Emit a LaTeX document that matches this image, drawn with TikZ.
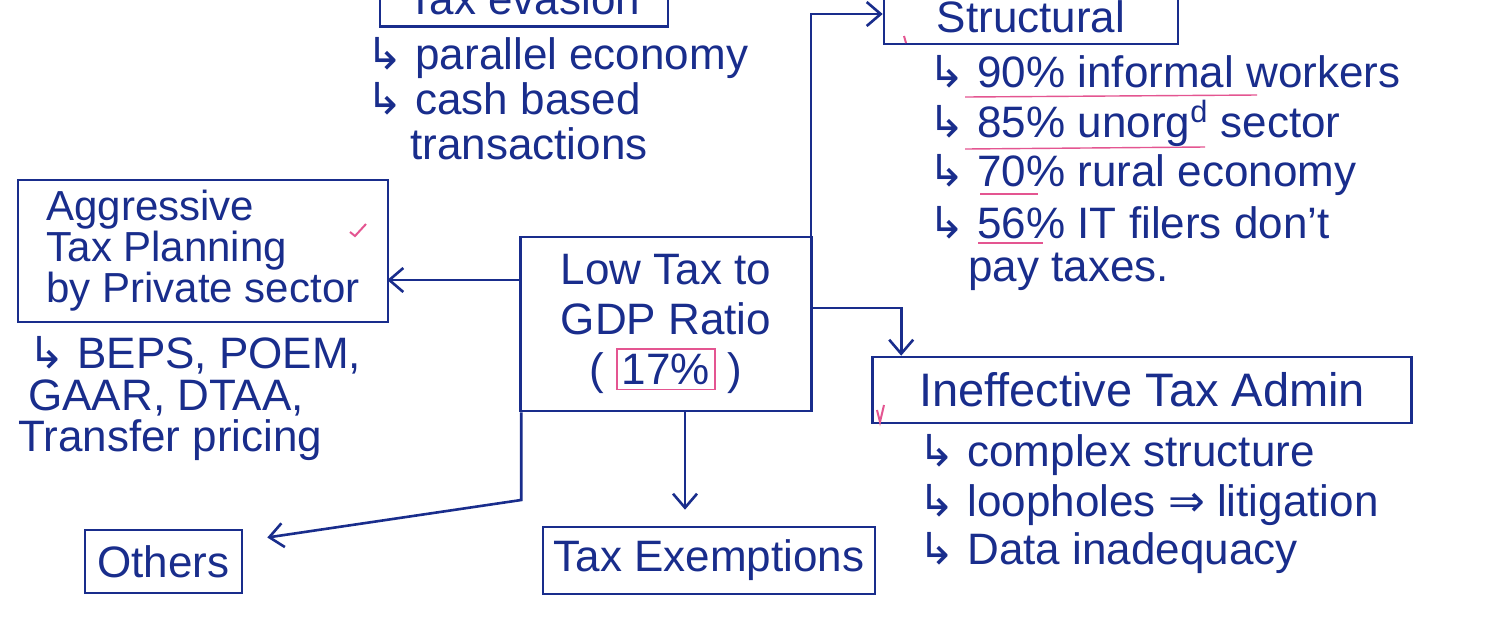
\documentclass[tikz,border=0pt]{standalone}
\usepackage{fontspec}
\setmainfont{Liberation Sans}
\newfontfamily\symf{DejaVu Sans}
\usetikzlibrary{arrows.meta}
\definecolor{ink}{RGB}{25,45,140}
\definecolor{pinkink}{RGB}{228,85,145}
\newcommand\harr{{\symf ↳}\ }
\newcommand\pinkbx[1]{{\setlength{\fboxsep}{2pt}\setlength{\fboxrule}{0.8pt}\fcolorbox{pinkink}{white}{#1}}}
\tikzset{
  box/.style={draw=ink, line width=1.3pt, inner sep=0pt, align=center, text=ink},
  arr/.style={draw=ink, line width=1.3pt, -{Straight Barb[length=7pt,width=12pt,line width=1.3pt]}},
  txt/.style={anchor=west, text=ink, inner sep=0pt},
  pinkline/.style={draw=pinkink, line width=0.7pt},
}
\begin{document}
\begin{tikzpicture}[x=0.5pt,y=-0.5pt,font=\fontsize{22}{25}\selectfont]
\useasboundingbox (0,0) rectangle (1500,618);
\clip (0,0) rectangle (1500,618);
\fill[white] (0,0) rectangle (1500,618);

% boxes
\node[box, minimum width=145.5pt, minimum height=87pt] (central) at (666,324)
  {Low Tax to\\GDP Ratio\\( \pinkbx{17\%} )};
\node[box, minimum width=144pt, minimum height=33.5pt, text depth=0pt] (evasion) at (524,-7) {\raisebox{-6pt}{Tax evasion}};
\node[box, minimum width=147pt, minimum height=30pt, text depth=0pt] (structural) at (1031,14) {\raisebox{-3pt}{Structural}};
\node[box, minimum width=185pt, minimum height=71pt, align=left, font=\fontsize{21}{20.5}\selectfont] (aggressive) at (203,251)
  {Aggressive\\Tax Planning\\by Private sector};
\node[box, minimum width=269.5pt, minimum height=33pt, font=\fontsize{23.5}{25}\selectfont] (ineffective) at (1142,390) {Ineffective Tax Admin};
\node[box, minimum width=78.5pt, minimum height=31.5pt] (others) at (163.5,561.5) {Others};
\node[box, minimum width=166pt, minimum height=33.5pt] (taxex) at (709,560.5) {Tax Exemptions};

% connectors
\draw[arr] ([xshift=-1pt]central.north east) |- (structural.west);
\draw[arr] ([yshift=22pt]central.west) -- ([yshift=22pt]central.west -| aggressive.east) -- ++(-2,0);
\coordinate (bend) at ([xshift=1pt]central.south west |- 0,500);
\coordinate (othtip) at ([xshift=12pt,yshift=12pt]others.east);
\draw[arr] ([xshift=1pt]central.south west) -- (bend) -- (othtip);
\draw[arr, shorten >=8pt] ([xshift=9.5pt]central.south) -- ([xshift=9.5pt]central.south |- taxex.north);
\draw[arr] ([yshift=8pt]central.east) -| ([xshift=15pt]ineffective.north west);

% tax evasion list
\node[txt] (ev1) at (366,58) {\harr parallel economy};
\node[txt] (ev2) at (366,99) {\harr cash based};
\node[txt] (ev3) at (410,144) {transactions};

% structural list
\node[txt] (st1) at (928,72) {\harr 90\% informal workers};
\node[txt] (st2) at (928,123) {\harr 85\% unorg\textsuperscript{d} sector};
\node[txt] (st3) at (928,175) {\harr 70\% rural economy};
\node[txt] (st4) at (928,223) {\harr 56\% IT filers don't};
\node[txt] (st5) at (968,272) {pay taxes.};

% aggressive list
\node[txt] (ag1) at (28,355) {\harr BEPS, POEM,};
\node[txt] (ag2) at (28,398) {GAAR, DTAA,};
\node[txt] (ag3) at (18,440) {Transfer pricing};

% ineffective list
\node[txt] (in1) at (918,455) {\harr complex structure};
\node[txt] (in2) at (918,505) {\harr loopholes {\symf ⇒} litigation};
\node[txt] (in3) at (918,553) {\harr Data inadequacy};

% pink underlines and ticks
\draw[pinkline] (965,97) -- (1257,95);
\draw[pinkline] (965,149) -- (1205,147);
\draw[pinkline] (980,194) -- (1038,194);
\draw[pinkline] (978,243) -- (1043,243);
\draw[pinkline, line width=1pt] (350,232) -- (355,236) -- (366,224);
\draw[pinkline, line width=1pt] (904,36) -- (906,43);
\draw[pinkline, line width=1pt] (877,410) -- (880,422) -- (884,405);
\end{tikzpicture}
\end{document}
